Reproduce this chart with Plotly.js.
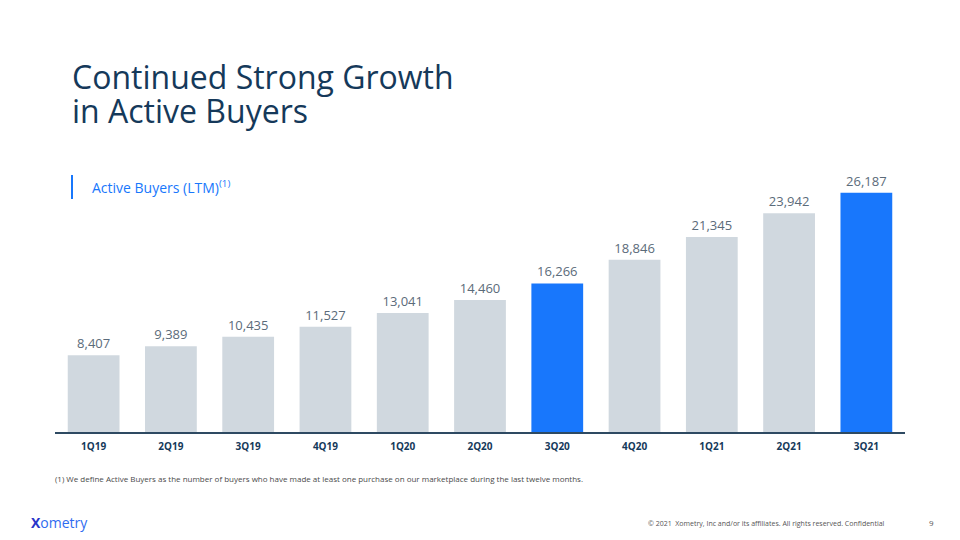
<!DOCTYPE html>
<html>
<head>
<meta charset="utf-8">
<script src="https://cdn.plot.ly/plotly-3.0.1.min.js"></script>
<style>html,body{margin:0;padding:0;background:#fff;}#chart{width:960px;height:540px;}</style>
</head>
<body>
<div id="chart"></div>
<script>
const quarters = ["1Q19","2Q19","3Q19","4Q19","1Q20","2Q20","3Q20","4Q20","1Q21","2Q21","3Q21"];
const activeBuyers = [8407, 9389, 10435, 11527, 13041, 14460, 16266, 18846, 21345, 23942, 26187];
const highlighted = ["3Q20","3Q21"];

const GRAY = "#d0d8df", BLUE = "#1877fc", NAVY = "#15395a";
const L = 55, R = 905, T = 158, B = 432;
const px = x => (x - L) / (R - L);
const py = y => (B - y) / (B - T);

const trace = {
  type: "bar",
  x: quarters,
  y: activeBuyers,
  marker: { color: quarters.map(q => highlighted.includes(q) ? BLUE : GRAY) },
  width: 0.67,
  text: activeBuyers.map(v => v.toLocaleString("en-US")),
  textposition: "outside",
  cliponaxis: false,
  textfont: { family: "Open Sans", size: 13, color: "#5b6b7a" },
  hoverinfo: "x+y"
};

const layout = {
  width: 960, height: 540,
  margin: { l: L, r: 960 - R, t: T, b: 540 - B },
  paper_bgcolor: "#fff", plot_bgcolor: "#fff",
  showlegend: false,
  bargap: 0.33,
  font: { family: "Open Sans" },
  xaxis: {
    type: "category",
    range: [-0.5, 10.5],
    showline: true, linecolor: "#2e4a62", linewidth: 2,
    ticks: "", showgrid: false,
    tickfont: { family: "Open Sans", size: 10, color: NAVY, weight: "bold" },
    ticklabelstandoff: 4
  },
  yaxis: { range: [0, 30000], visible: false, showgrid: false, zeroline: false },
  shapes: [
    { type: "line", xref: "paper", yref: "paper", x0: px(72), x1: px(72), y0: py(175), y1: py(199),
      line: { color: BLUE, width: 2 } }
  ],
  annotations: [
    { xref: "paper", yref: "paper", x: px(70), y: py(77), xanchor: "left", yanchor: "middle", showarrow: false,
      text: "Continued Strong Growth", font: { family: "Open Sans", size: 32, color: NAVY } },
    { xref: "paper", yref: "paper", x: px(70), y: py(111), xanchor: "left", yanchor: "middle", showarrow: false,
      text: "in Active Buyers", font: { family: "Open Sans", size: 32, color: NAVY } },
    { xref: "paper", yref: "paper", x: px(90), y: py(187), xanchor: "left", yanchor: "middle", showarrow: false,
      text: "Active Buyers (LTM)<sup>(1)</sup>", font: { family: "Open Sans", size: 14, color: BLUE } },
    { xref: "paper", yref: "paper", x: px(53), y: py(478), xanchor: "left", yanchor: "middle", showarrow: false,
      text: "(1) We define Active Buyers as the number of buyers who have made at least one purchase on our marketplace during the last twelve months.",
      font: { family: "Open Sans", size: 8, color: "#4a4a4a" } },
    { xref: "paper", yref: "paper", x: px(887), y: py(523), xanchor: "right", yanchor: "middle", showarrow: false,
      text: "© 2021  Xometry, Inc and/or its affiliates. All rights reserved. Confidential",
      font: { family: "Open Sans", size: 7, color: "#555" } },
    { xref: "paper", yref: "paper", x: px(931), y: py(522), xanchor: "center", yanchor: "middle", showarrow: false,
      text: "9", font: { family: "Open Sans", size: 8, color: "#555" } },
    { xref: "paper", yref: "paper", x: px(29), y: py(522), xanchor: "left", yanchor: "middle", showarrow: false,
      text: "<b style='color:#2a35c9'>X</b>ometry", font: { family: "Open Sans", size: 14, color: "#2f6cf0" } }
  ]
};

Plotly.newPlot("chart", [trace], layout, { displayModeBar: false, staticPlot: true });
</script>
</body>
</html>
